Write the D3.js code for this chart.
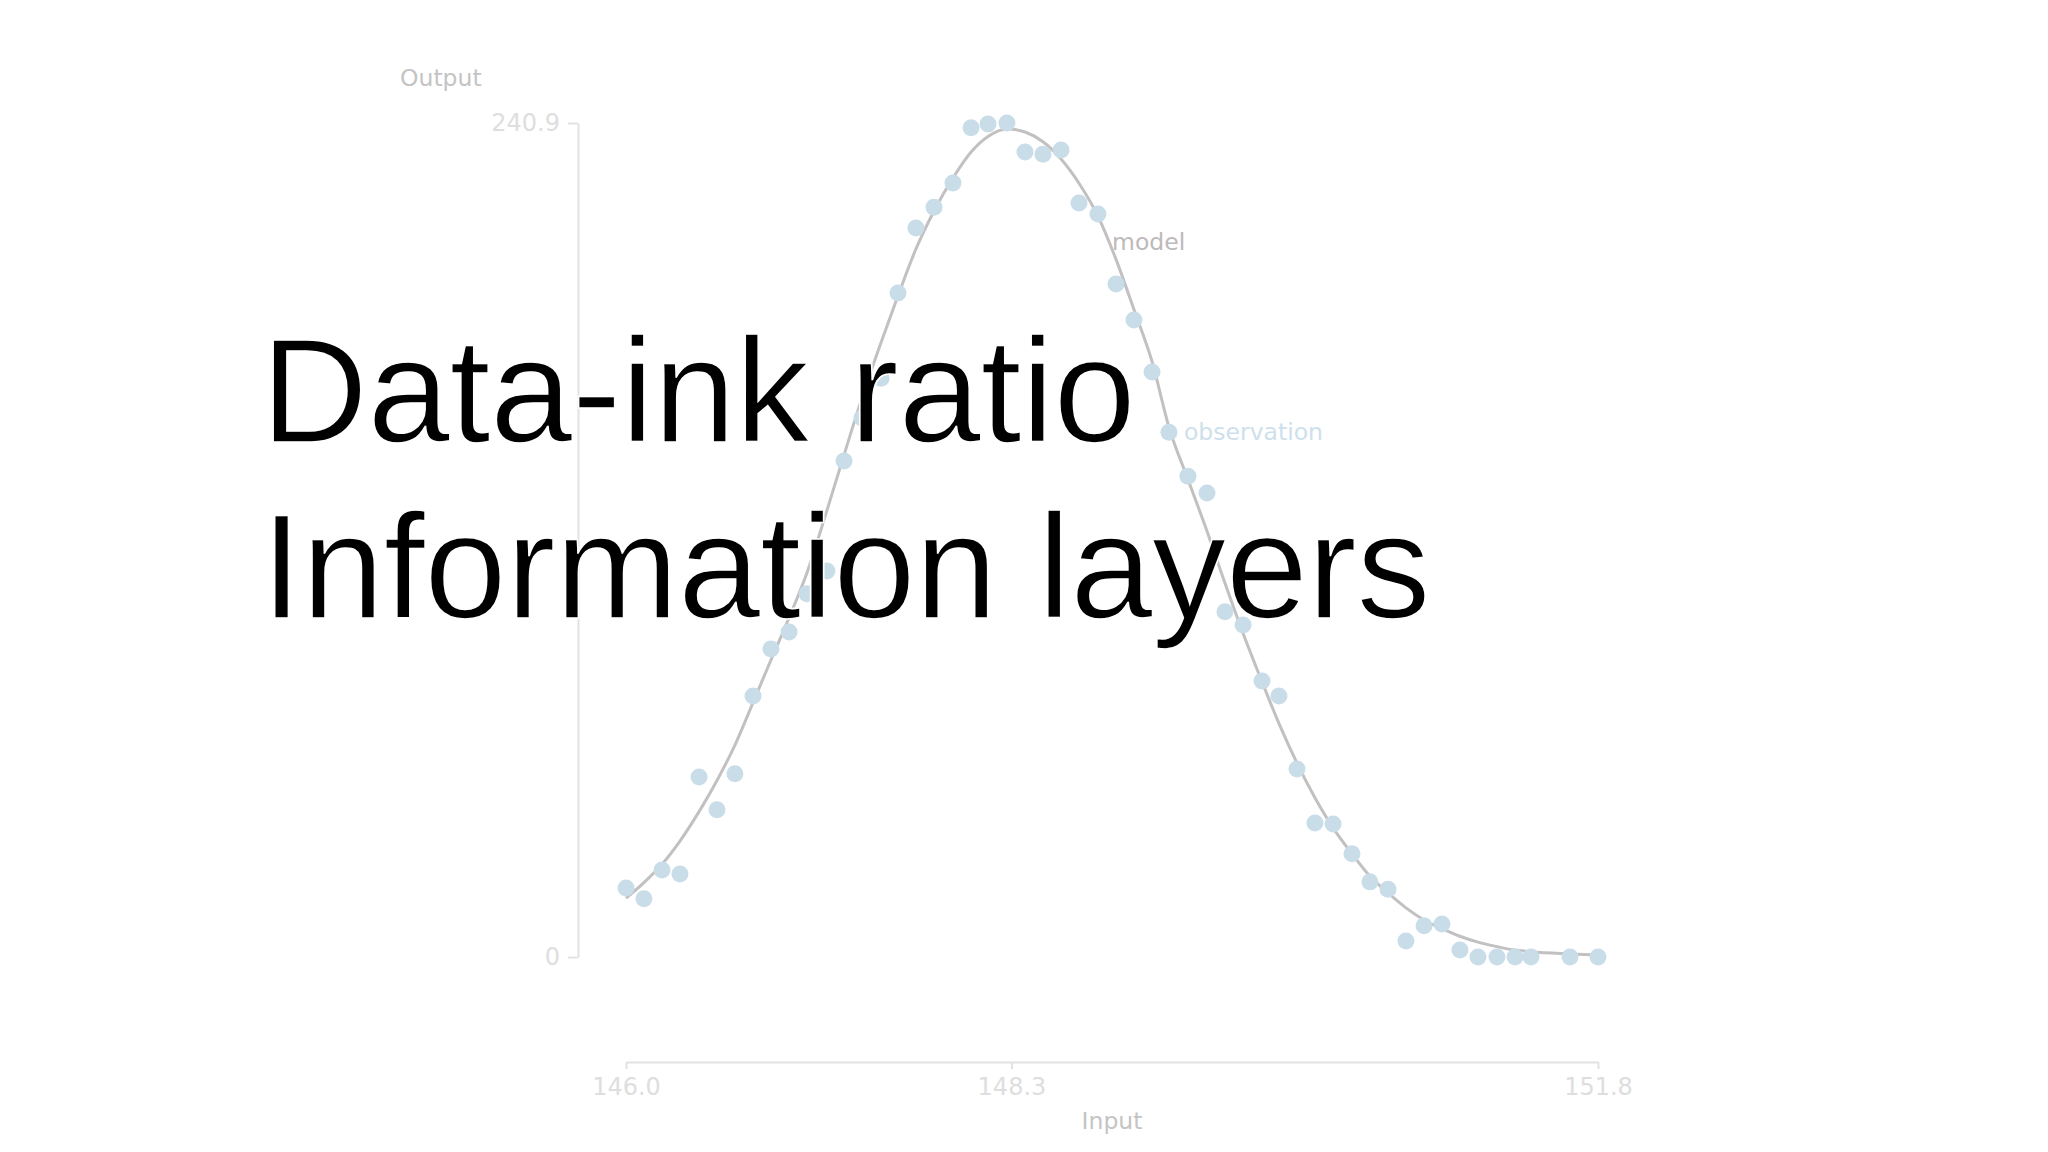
<!DOCTYPE html>
<html>
<head>
<meta charset="utf-8">
<script src="https://cdn.jsdelivr.net/npm/d3@7"></script>
<style>
  html, body { margin: 0; padding: 0; background: #ffffff; }
  svg { display: block; }
</style>
</head>
<body>
<svg id="chart" width="2048" height="1152"></svg>
<script>
// ---- data ----
const obsX = [146.000,146.107,146.215,146.322,146.436,146.543,146.650,146.758,146.865,146.973,
              147.080,147.199,147.301,147.408,147.522,147.623,147.730,147.838,147.951,148.059,
              148.160,148.273,148.381,148.488,148.596,148.703,148.816,148.924,149.031,149.139,
              149.240,149.353,149.467,149.574,149.682,149.795,149.896,150.004,150.111,150.219,
              150.332,150.439,150.547,150.654,150.762,150.869,150.976,151.084,151.197,151.305,
              151.400,151.633,151.800];
const obsY = [19.9,16.8,25.1,24.0,52.0,42.5,52.9,75.4,89.0,93.9,
              104.9,111.5,143.3,155.7,167.2,191.8,210.6,216.6,223.6,239.5,
              240.6,240.9,232.5,231.9,233.1,217.8,214.6,194.4,184.0,169.0,
              151.6,138.9,134.0,99.7,95.9,79.7,75.4,54.3,38.7,38.4,
              29.8,21.7,19.6,4.6,9.0,9.5,2.0,0,0,0,
              0,0,0];

const modelX = [146.000,146.107,146.215,146.322,146.436,146.543,146.650,146.758,146.865,146.973,
                147.080,147.199,147.301,147.408,147.522,147.623,147.730,147.838,147.951,148.059,
                148.160,148.273,148.381,148.488,148.596,148.703,148.816,148.924,149.031,149.139,
                149.240,149.353,149.467,149.574,149.682,149.795,149.896,150.004,150.111,150.219,
                150.332,150.439,150.547,150.654,150.762,150.869,150.976,151.084,151.197,151.305,
                151.400,151.633,151.800];
const modelY = [17.0,21.5,26.8,33.5,42.0,51.0,61.2,73.5,85.8,98.0,
                111.0,129.0,145.0,161.5,177.5,191.0,204.5,215.5,225.0,232.5,
                237.0,239.2,238.3,235.5,230.5,223.5,214.0,201.5,187.0,172.0,
                153.0,138.0,123.0,108.0,93.5,79.5,67.5,56.0,46.0,37.3,
                29.8,23.3,18.5,14.2,10.7,8.2,6.0,4.3,3.0,2.0,
                1.5,0.9,0.6];

const xTicks = [146.0, 148.3, 151.8];
const xTickLabels = ["146.0", "148.3", "151.8"];
const yTicks = [0, 240.9];
const yTickLabels = ["0", "240.9"];

const titleLines = ["Data-ink ratio", "Information layers"];
const xTitle = "Input";
const yTitle = "Output";
const modelLabel = "model";
const obsLabel = "observation";

// ---- drawing ----
const svg = d3.select("#chart");

const x = d3.scaleLinear().domain([146.0, 151.8]).range([626, 1598]);
const y = d3.scaleLinear().domain([0, 240.9]).range([957, 123]);

const tickFont = "'DejaVu Sans', sans-serif";

// y axis (range frame)
const yAxis = d3.axisLeft(y)
  .tickValues(yTicks)
  .tickFormat((d, i) => yTickLabels[i])
  .tickSize(10).tickSizeOuter(0).tickPadding(8);
const gy = svg.append("g").attr("transform", "translate(578,0)").call(yAxis);

// x axis (range frame)
const xAxis = d3.axisBottom(x)
  .tickValues(xTicks)
  .tickFormat((d, i) => xTickLabels[i])
  .tickSize(7).tickSizeOuter(0).tickPadding(9);
const gx = svg.append("g").attr("transform", "translate(0,1062)").call(xAxis);

[gx, gy].forEach(g => {
  g.select(".domain").attr("stroke", "#e2e2e2").attr("stroke-width", 2);
  g.selectAll(".tick line").attr("stroke", "#e2e2e2").attr("stroke-width", 2);
  g.selectAll(".tick text")
    .attr("fill", "#dedede")
    .style("font-family", tickFont)
    .style("font-size", "24px");
});

// axis titles
svg.append("text")
  .attr("x", 400).attr("y", 86)
  .attr("fill", "#c4c4c4")
  .style("font-family", tickFont).style("font-size", "23.5px")
  .text(yTitle);

svg.append("text")
  .attr("x", (x.range()[0] + x.range()[1]) / 2).attr("y", 1129)
  .attr("text-anchor", "middle")
  .attr("fill", "#c4c4c4")
  .style("font-family", tickFont).style("font-size", "23.5px")
  .text(xTitle);

// model curve
const modelData = modelX.map((v, i) => [v, modelY[i]]);
svg.append("path")
  .datum(modelData)
  .attr("fill", "none")
  .attr("stroke", "#c2c0c0")
  .attr("stroke-width", 3)
  .attr("d", d3.line().x(d => x(d[0])).y(d => y(d[1])).curve(d3.curveMonotoneX));

// observations
const obsData = obsX.map((v, i) => [v, obsY[i]]);
svg.append("g").selectAll("circle")
  .data(obsData)
  .join("circle")
  .attr("cx", d => x(d[0]))
  .attr("cy", d => y(d[1]))
  .attr("r", 8.5)
  .attr("fill", "#c9dde9");

// direct labels
const mi = modelX.indexOf(148.924);
svg.append("text")
  .attr("x", x(modelX[mi]) - 4).attr("y", y(modelY[mi]) - 9)
  .attr("fill", "#bdb9b9")
  .style("font-family", tickFont).style("font-size", "23.5px")
  .text(modelLabel);

const oi = obsX.indexOf(149.240);
svg.append("text")
  .attr("x", x(obsX[oi]) + 15).attr("y", y(obsY[oi]) + 8)
  .attr("fill", "#cde0ec")
  .style("font-family", tickFont).style("font-size", "23.5px")
  .text(obsLabel);

// slide title overlay
svg.append("g").selectAll("text")
  .data(titleLines)
  .join("text")
  .attr("x", 261)
  .attr("y", (d, i) => 442 + i * 176)
  .attr("fill", "#000")
  .attr("stroke", "#fff")
  .attr("stroke-width", 1.6)
  .style("font-family", "'Liberation Sans', Arial, sans-serif")
  .style("font-size", "148px")
  .style("letter-spacing", "-0.4px")
  .text(d => d);
</script>
</body>
</html>
